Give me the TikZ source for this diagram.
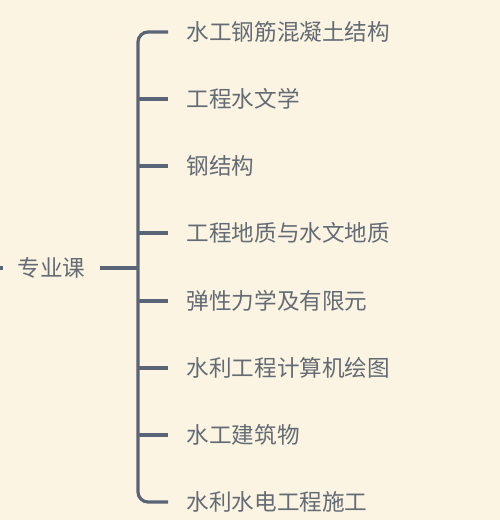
\documentclass[tikz,border=0pt]{standalone}
\usepackage{fontspec}
\newfontfamily\cjk{Noto Sans CJK SC}
\usetikzlibrary{positioning, calc}
\definecolor{bgcream}{HTML}{FBF4E2}
\definecolor{branchgray}{HTML}{5A6477}
\definecolor{labelgray}{HTML}{646B74}

\begin{document}
\begin{tikzpicture}[
        x=1pt, y=-1pt,
        topic/.style={inner xsep=14.5pt, inner ysep=4pt, font=\cjk\fontsize{22.6}{26}\selectfont, text=labelgray},
        course/.style={anchor=west, inner xsep=18.5pt, inner ysep=4pt, font=\cjk\fontsize{22.6}{26}\selectfont, text=labelgray},
        branch/.style={line width=3.2pt, draw=branchgray},
        outer/.style={branch, rounded corners=10pt}
    ]
        % Background
        \fill[bgcream] (0,0) rectangle (500,520);
        \useasboundingbox (0,0) rectangle (500,520);

        % Parent topic
        \coordinate (inlet) at (0,268);
        \node[topic] (major) at (51.5,268) {专业课};
        \coordinate (joint) at (138,268);

        % Courses
        \node[course] (c1) at (168,32) {水工钢筋混凝土结构};
        \node[course] (c2) at (168,99) {工程水文学};
        \node[course] (c3) at (168,166) {钢结构};
        \node[course] (c4) at (168,233) {工程地质与水文地质};
        \node[course] (c5) at (168,301) {弹性力学及有限元};
        \node[course] (c6) at (168,368) {水利工程计算机绘图};
        \node[course] (c7) at (168,435) {水工建筑物};
        \node[course] (c8) at (168,502) {水利水电工程施工};

        % Stem
        \draw[branch] (inlet) -- (major.west);
        \draw[branch] (major.east) -- (joint);

        % Bracket (rounded ends only)
        \draw[outer] (c1.west) -| (joint) |- (c8.west);

        % Inner ticks
        \draw[branch] (c2.west) -- (c2.west -| joint);
        \draw[branch] (c3.west) -- (c3.west -| joint);
        \draw[branch] (c4.west) -- (c4.west -| joint);
        \draw[branch] (c5.west) -- (c5.west -| joint);
        \draw[branch] (c6.west) -- (c6.west -| joint);
        \draw[branch] (c7.west) -- (c7.west -| joint);

    \end{tikzpicture}
\end{document}
